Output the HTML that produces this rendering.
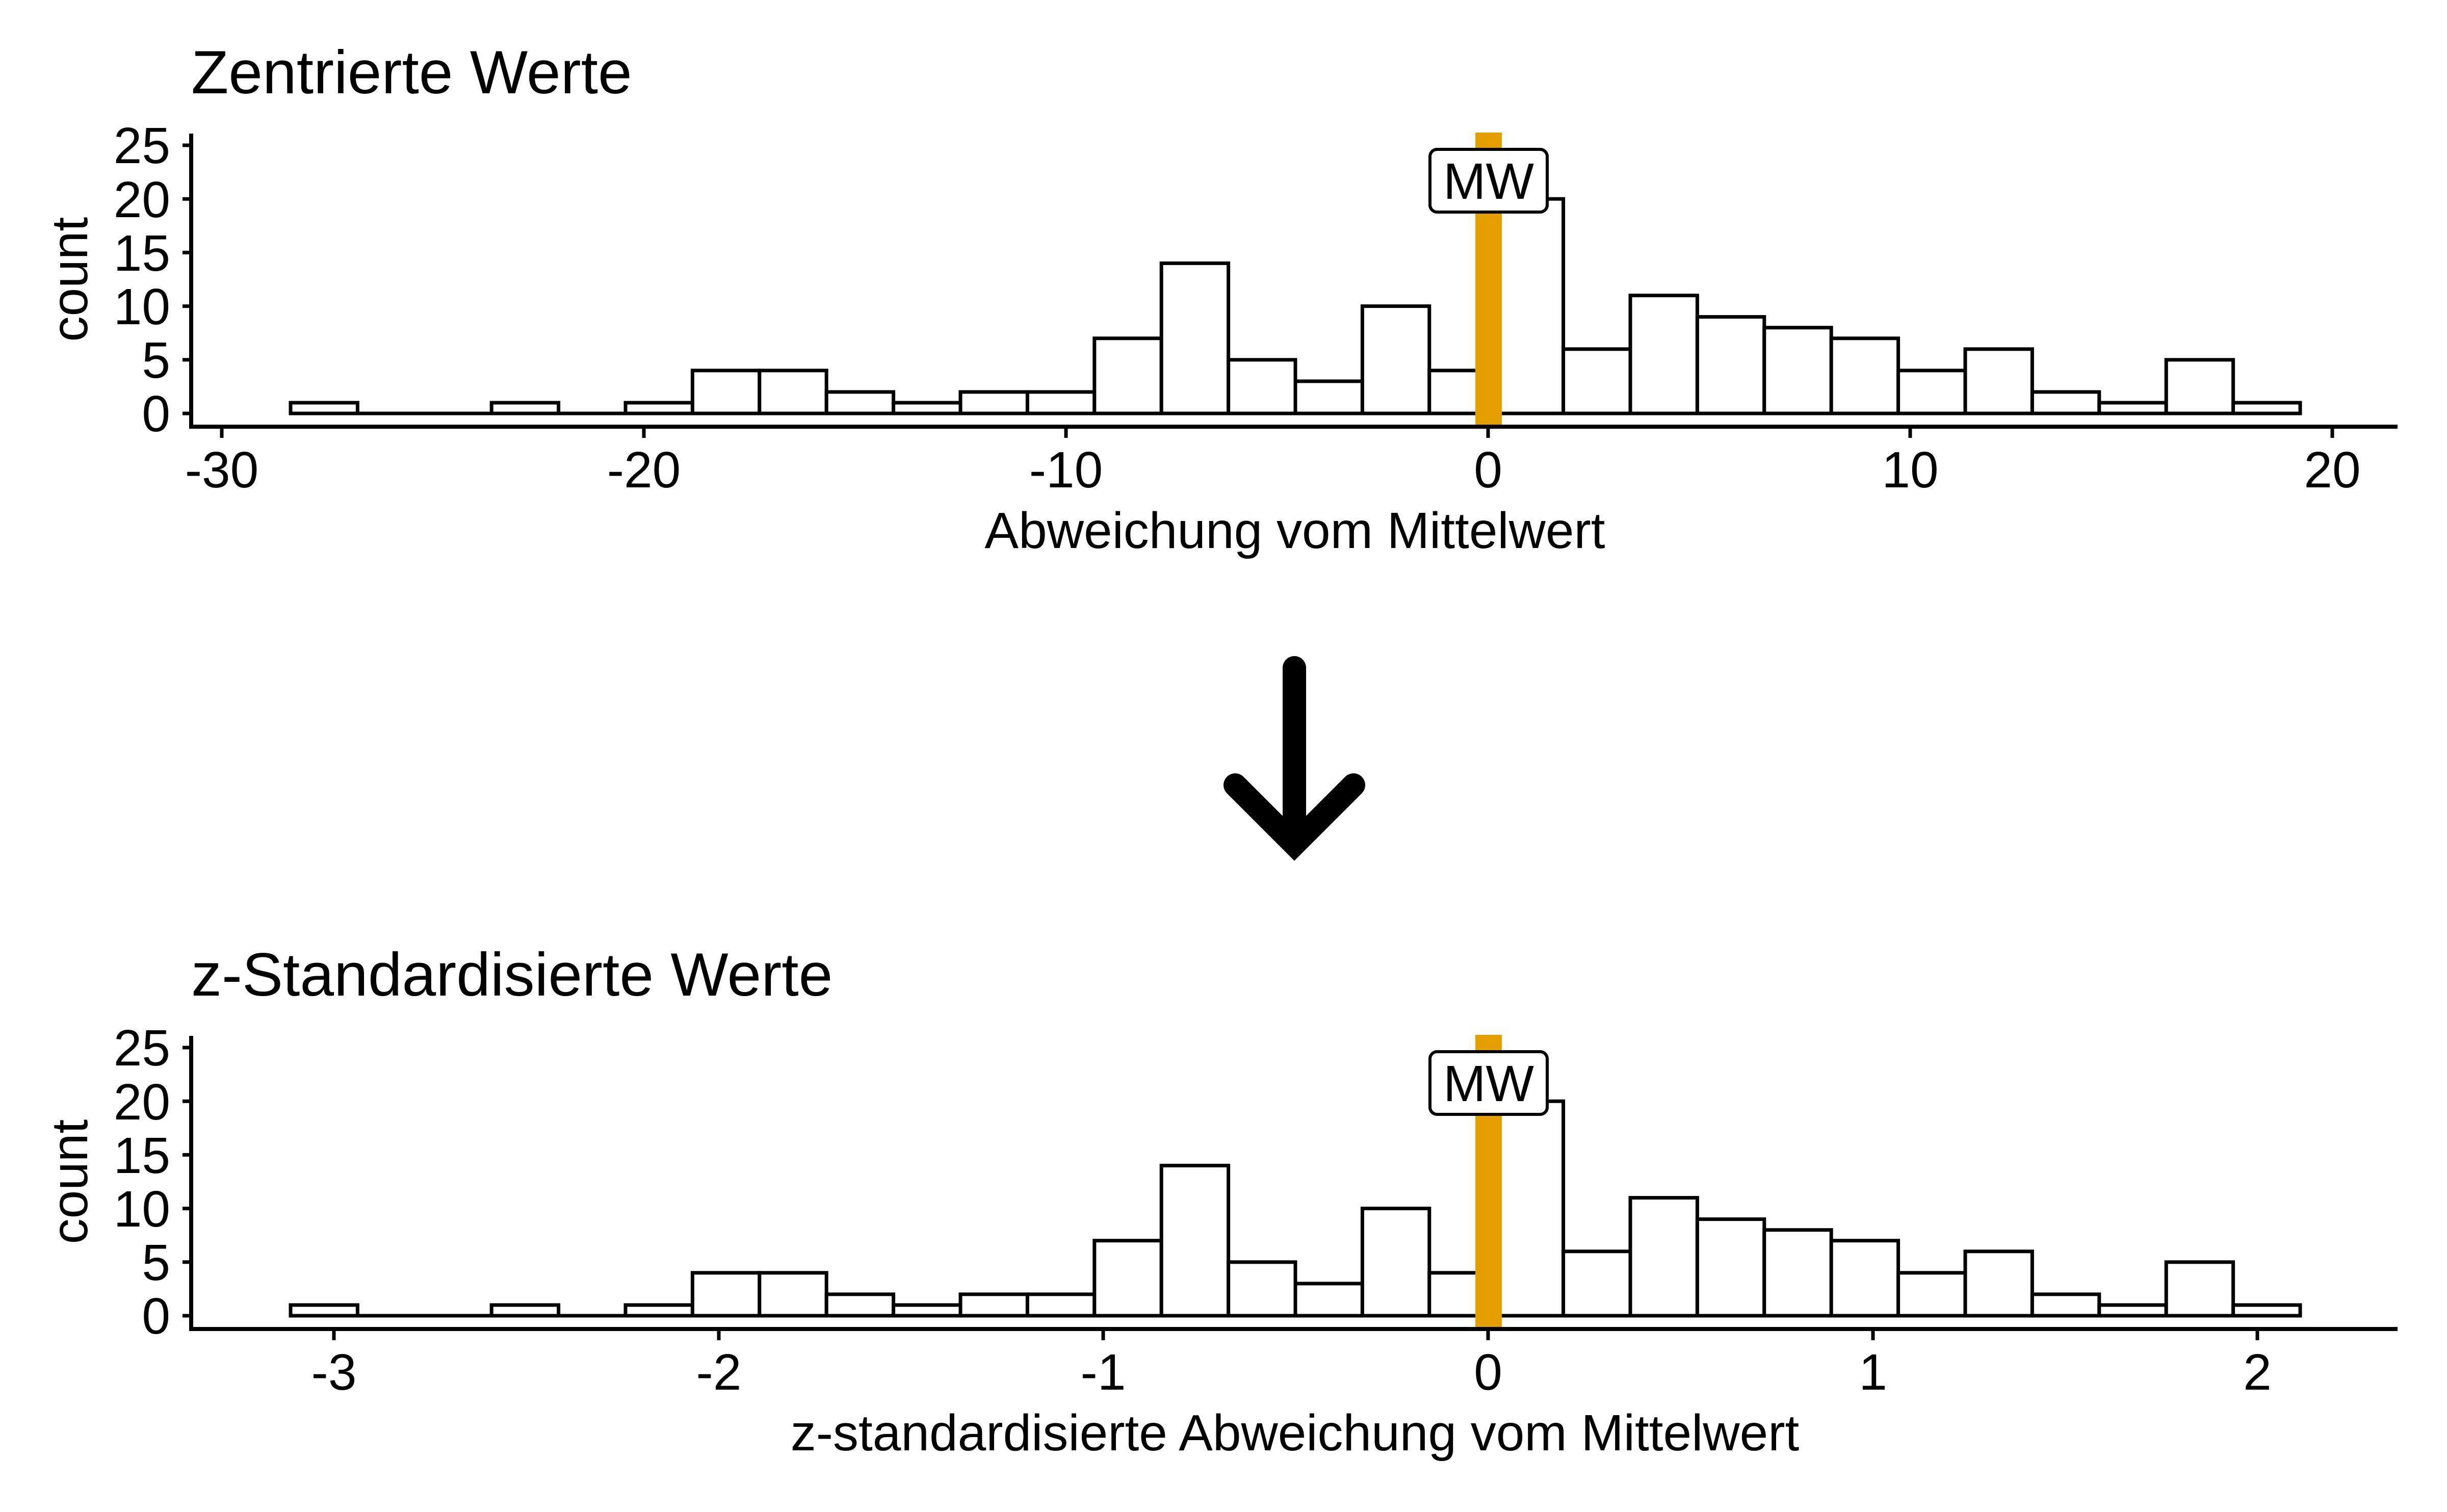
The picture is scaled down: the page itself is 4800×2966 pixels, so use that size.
<!DOCTYPE html>
<html><head><meta charset="utf-8"><style>html,body{margin:0;padding:0;background:#fff}svg{display:block}text{font-family:"Liberation Sans",Arial,sans-serif;fill:#000}</style></head>
<body>
<svg width="4800" height="2966" viewBox="0 0 4800 2966" xmlns="http://www.w3.org/2000/svg">
<defs>
<g id="panel">
  <line x1="570" y1="811" x2="4513" y2="811" stroke="#000" stroke-width="7"/>
  <g fill="#fff" stroke="#000" stroke-width="7">
    <rect x="570" y="790" width="131.4" height="21"/>
    <rect x="964.2" y="790" width="131.4" height="21"/>
    <rect x="1227" y="790" width="131.4" height="21"/>
    <rect x="1358.4" y="726.8" width="131.4" height="84.2"/>
    <rect x="1489.8" y="726.8" width="131.4" height="84.2"/>
    <rect x="1621.2" y="768.9" width="131.4" height="42.1"/>
    <rect x="1752.6" y="790" width="131.4" height="21"/>
    <rect x="1884" y="768.9" width="131.4" height="42.1"/>
    <rect x="2015.4" y="768.9" width="131.4" height="42.1"/>
    <rect x="2146.8" y="663.7" width="131.4" height="147.3"/>
    <rect x="2278.2" y="516.4" width="131.4" height="294.6"/>
    <rect x="2409.6" y="705.8" width="131.4" height="105.2"/>
    <rect x="2541" y="747.9" width="131.4" height="63.1"/>
    <rect x="2672.4" y="600.6" width="131.4" height="210.4"/>
    <rect x="2803.8" y="726.8" width="131.4" height="84.2"/>
    <rect x="2935.2" y="390.2" width="131.4" height="420.8"/>
    <rect x="3066.6" y="684.8" width="131.4" height="126.2"/>
    <rect x="3198" y="579.6" width="131.4" height="231.4"/>
    <rect x="3329.4" y="621.6" width="131.4" height="189.4"/>
    <rect x="3460.8" y="642.7" width="131.4" height="168.3"/>
    <rect x="3592.2" y="663.7" width="131.4" height="147.3"/>
    <rect x="3723.6" y="726.8" width="131.4" height="84.2"/>
    <rect x="3855" y="684.8" width="131.4" height="126.2"/>
    <rect x="3986.4" y="768.9" width="131.4" height="42.1"/>
    <rect x="4117.8" y="790" width="131.4" height="21"/>
    <rect x="4249.2" y="705.8" width="131.4" height="105.2"/>
    <rect x="4380.6" y="790" width="131.4" height="21"/>
  </g>
  <rect x="2894" y="260" width="52" height="577" fill="#E69F00"/>
  <rect x="2805" y="293" width="230" height="123" rx="14" fill="#fff" stroke="#000" stroke-width="6"/>
  <text x="2920" y="390" font-size="100" text-anchor="middle">MW</text>
  <line x1="375" y1="262" x2="375" y2="841" stroke="#000" stroke-width="8"/>
  <line x1="371" y1="837" x2="4703" y2="837" stroke="#000" stroke-width="8"/>
  <g stroke="#000" stroke-width="7">
    <line x1="358" y1="811" x2="375" y2="811"/>
    <line x1="358" y1="705.8" x2="375" y2="705.8"/>
    <line x1="358" y1="600.6" x2="375" y2="600.6"/>
    <line x1="358" y1="495.4" x2="375" y2="495.4"/>
    <line x1="358" y1="390.2" x2="375" y2="390.2"/>
    <line x1="358" y1="285" x2="375" y2="285"/>
  </g>
  <g font-size="100" text-anchor="end">
    <text x="334" y="846">0</text>
    <text x="334" y="741">5</text>
    <text x="334" y="636">10</text>
    <text x="334" y="531">15</text>
    <text x="334" y="426">20</text>
    <text x="334" y="320">25</text>
  </g>
  <text transform="translate(171,548) rotate(-90)" font-size="100" text-anchor="middle">count</text>
</g>
</defs>
<use href="#panel"/>
<use href="#panel" y="1770"/>
<text x="375" y="183" font-size="120">Zentrierte Werte</text>
<text x="375" y="1953" font-size="120">z-Standardisierte Werte</text>
<g stroke="#000" stroke-width="7">
  <line x1="435" y1="837" x2="435" y2="859"/>
  <line x1="1263" y1="837" x2="1263" y2="859"/>
  <line x1="2091" y1="837" x2="2091" y2="859"/>
  <line x1="2919" y1="837" x2="2919" y2="859"/>
  <line x1="3747" y1="837" x2="3747" y2="859"/>
  <line x1="4575" y1="837" x2="4575" y2="859"/>
  <line x1="655" y1="2607" x2="655" y2="2629"/>
  <line x1="1410" y1="2607" x2="1410" y2="2629"/>
  <line x1="2164" y1="2607" x2="2164" y2="2629"/>
  <line x1="2919" y1="2607" x2="2919" y2="2629"/>
  <line x1="3674" y1="2607" x2="3674" y2="2629"/>
  <line x1="4428" y1="2607" x2="4428" y2="2629"/>
</g>
<g font-size="100" text-anchor="middle">
  <text x="435" y="956">-30</text>
  <text x="1263" y="956">-20</text>
  <text x="2091" y="956">-10</text>
  <text x="2919" y="956">0</text>
  <text x="3747" y="956">10</text>
  <text x="4575" y="956">20</text>
  <text x="2540" y="1075">Abweichung vom Mittelwert</text>
  <text x="655" y="2726">-3</text>
  <text x="1410" y="2726">-2</text>
  <text x="2164" y="2726">-1</text>
  <text x="2919" y="2726">0</text>
  <text x="3674" y="2726">1</text>
  <text x="4428" y="2726">2</text>
  <text x="2540" y="2845">z-standardisierte Abweichung vom Mittelwert</text>
</g>
<g stroke="#000" stroke-width="46" fill="none">
  <line x1="2539" y1="1310" x2="2539" y2="1640" stroke-linecap="round"/>
  <polyline points="2423,1540 2539,1656 2655,1540" stroke-linecap="round" stroke-linejoin="miter"/>
</g>
</svg>
</body></html>
